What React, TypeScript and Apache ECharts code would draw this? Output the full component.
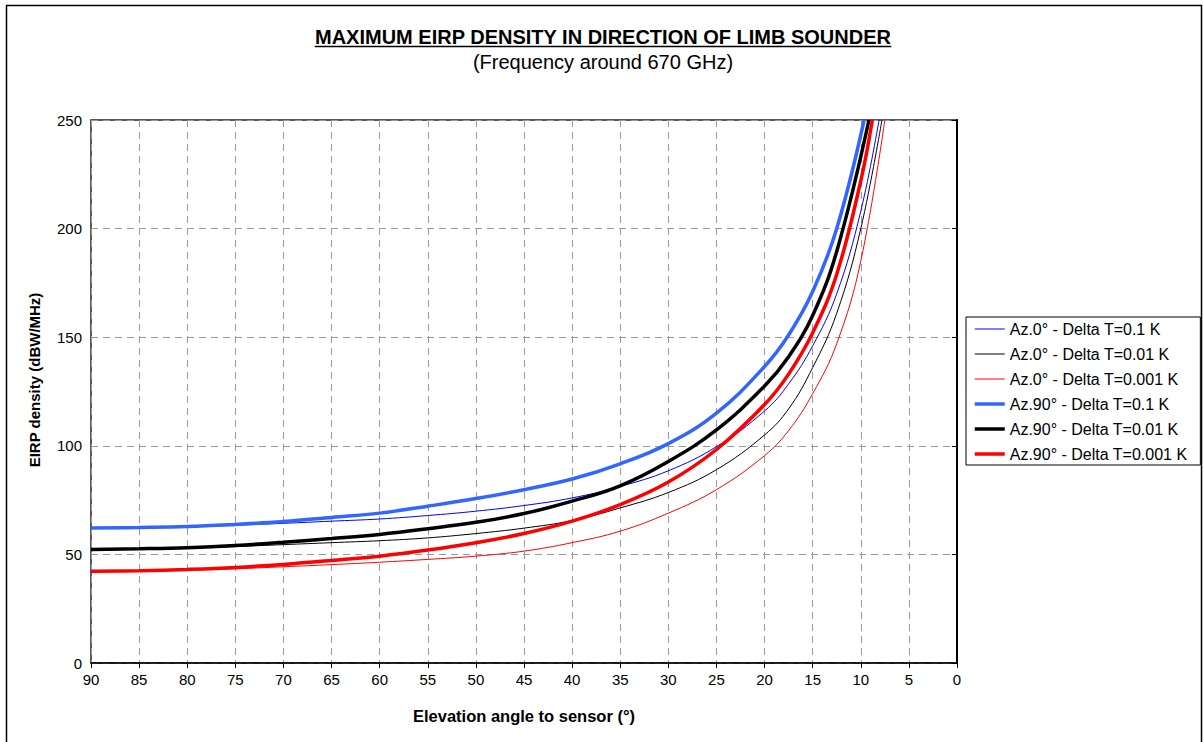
import React, { useEffect, useRef } from "react";
import * as echarts from "echarts";

const FONT = '"Liberation Sans", Arial, Helvetica, sans-serif';

const TITLE = "MAXIMUM EIRP DENSITY IN DIRECTION OF LIMB SOUNDER";
const SUBTITLE = "(Frequency around 670 GHz)";
const X_NAME = "Elevation angle to sensor (°)";
const Y_NAME = "EIRP density (dBW/MHz)";

const SERIES_NAMES = [
  "Az.0° - Delta T=0.1 K",
  "Az.0° - Delta T=0.01 K",
  "Az.0° - Delta T=0.001 K",
  "Az.90° - Delta T=0.1 K",
  "Az.90° - Delta T=0.01 K",
  "Az.90° - Delta T=0.001 K",
];

// elevation angles (deg) and EIRP density values (dBW/MHz)
const elevAz0T01 = [90, 85, 80, 75, 70, 65, 60, 55, 50, 45, 40, 35, 30, 25, 20, 17.5, 15, 12.5, 10, 8.1];
const valAz0T01 = [62.2, 62.4, 62.7, 63.4, 64.3, 65.3, 66.3, 67.9, 69.9, 72.5, 76.0, 81.3, 88.5, 99.6, 116, 128.5, 146, 170, 208, 250];

const elevAz0T001 = [90, 85, 80, 75, 70, 65, 60, 55, 50, 45, 40, 35, 30, 25, 20, 17.5, 15, 12.5, 10, 7.8];
const valAz0T001 = [52.3, 52.5, 52.9, 53.6, 54.5, 55.4, 56.3, 57.6, 59.6, 62.1, 65.6, 71.4, 78.5, 89.0, 105, 117, 136, 161, 200, 250];

const elevAz0T0001 = [90, 85, 80, 75, 70, 65, 60, 55, 50, 45, 40, 35, 30, 25, 20, 17.5, 15, 12.5, 10, 7.5];
const valAz0T0001 = [42.2, 42.4, 42.8, 43.4, 44.3, 45.3, 46.4, 47.7, 49.2, 51.5, 55.4, 60.7, 69.0, 79.8, 95.5, 107, 124, 147, 185, 250];

const elevAz90T01 = [90, 85, 80, 75, 70, 65, 60, 55, 50, 45, 40, 35, 30, 25, 20, 17.5, 15, 12.5, 9.65];
const valAz90T01 = [62.2, 62.4, 62.8, 63.8, 65.1, 67.0, 69.0, 72.2, 75.7, 79.8, 84.7, 91.7, 101, 115, 136.5, 151, 171, 200, 250];

const elevAz90T001 = [90, 85, 80, 75, 70, 65, 60, 55, 50, 45, 40, 35, 30, 25, 20, 17.5, 15, 12.5, 9.15];
const valAz90T001 = [52.3, 52.6, 53.1, 54.1, 55.6, 57.3, 59.2, 61.8, 64.8, 68.8, 74.5, 81.6, 92.8, 107.3, 127.5, 141, 160, 189.5, 250];

const elevAz90T0001 = [90, 85, 80, 75, 70, 65, 60, 55, 50, 45, 40, 35, 30, 25, 20, 17.5, 15, 12.5, 10, 8.8];
const valAz90T0001 = [42.2, 42.5, 43.1, 44.0, 45.4, 47.2, 49.2, 52.0, 55.4, 59.6, 65.3, 72.9, 83.3, 98.3, 119, 133, 152, 179, 222, 250];

const ELEVS = [elevAz0T01, elevAz0T001, elevAz0T0001, elevAz90T01, elevAz90T001, elevAz90T0001];
const VALS = [valAz0T01, valAz0T001, valAz0T0001, valAz90T01, valAz90T001, valAz90T0001];
const COLORS = ["#0000ff", "#000000", "#ff0000", "#3366ff", "#000000", "#ff0000"];
const WIDTHS = [1, 1, 1, 3.5, 3.5, 3.5];

const X_MIN = 0;
const X_MAX = 90;
const X_STEP = 5;
const Y_MIN = 0;
const Y_MAX = 250;
const Y_STEP = 50;

function measure(text: string, font: string): number {
  const ctx = document.createElement("canvas").getContext("2d");
  if (!ctx) return text.length * 10;
  ctx.font = font;
  return ctx.measureText(text).width;
}

export default function App() {
  const ref = useRef<HTMLDivElement>(null);

  useEffect(() => {
    if (!ref.current) return;
    const chart = echarts.init(ref.current, undefined, { renderer: "svg" });

    const titleSize = 20;
    const titleW = measure(TITLE, `bold ${titleSize}px "Liberation Sans"`);
    const cx = 603;

    const series = SERIES_NAMES.map((name, i) => ({
      name,
      type: "line",
      data: ELEVS[i].map((e, j) => [e, VALS[i][j]]),
      symbol: "none",
      showSymbol: false,
      smooth: 0.4,
      lineStyle: { color: COLORS[i], width: WIDTHS[i] },
      itemStyle: { color: COLORS[i] },
      clip: true,
    }));

    chart.setOption({
      animation: false,
      backgroundColor: "#ffffff",
      textStyle: { fontFamily: FONT },
      grid: {
        left: 91,
        right: 246,
        top: 120,
        bottom: 79,
        show: true,
        borderColor: "#222",
        borderWidth: 1.5,
        backgroundColor: "transparent",
      },
      legend: {
        orient: "vertical",
        left: 966,
        top: 317,
        itemWidth: 30,
        itemHeight: 14,
        itemGap: 9,
        padding: [4, 13, 3, 7],
        borderColor: "#000",
        borderWidth: 1,
        backgroundColor: "#fff",
        align: "left",
        itemStyle: { opacity: 0 },
        textStyle: { fontSize: 16, color: "#000", fontFamily: FONT },
        data: SERIES_NAMES.map((name, i) => ({
          name,
          lineStyle: { width: WIDTHS[i], color: COLORS[i] },
        })),
      },
      xAxis: {
        type: "value",
        min: X_MIN,
        max: X_MAX,
        interval: X_STEP,
        inverse: true,
        name: X_NAME,
        nameLocation: "middle",
        nameGap: 44,
        nameTextStyle: { fontSize: 16.5, fontWeight: "bold", color: "#000", fontFamily: FONT },
        axisLine: { lineStyle: { color: "#000", width: 1.5 } },
        axisTick: { show: true, inside: false, length: 5, lineStyle: { color: "#000" } },
        axisLabel: { fontSize: 15, color: "#000", margin: 9, fontFamily: FONT },
        splitLine: { show: true, lineStyle: { color: "#999", type: [7, 5], width: 1 } },
      },
      yAxis: {
        type: "value",
        min: Y_MIN,
        max: Y_MAX,
        interval: Y_STEP,
        axisLine: { show: true, lineStyle: { color: "#000", width: 2 } },
        axisTick: { show: true, inside: false, length: 5, lineStyle: { color: "#000" } },
        axisLabel: { fontSize: 15, color: "#000", margin: 9, fontFamily: FONT },
        splitLine: { show: true, lineStyle: { color: "#999", type: [7, 5], width: 1 } },
      },
      graphic: [
        {
          type: "rect",
          shape: { x: 6.5, y: 5.5, width: 1195, height: 800 },
          style: { fill: "none", stroke: "#000", lineWidth: 1.5 },
          silent: true,
          z: -10,
        },
        {
          type: "text",
          x: cx,
          y: 37,
          style: {
            text: TITLE,
            fontSize: titleSize,
            fontWeight: "bold",
            fontFamily: FONT,
            fill: "#000",
            align: "center",
            verticalAlign: "middle",
          },
        },
        {
          type: "line",
          shape: { x1: cx - titleW / 2, y1: 46.5, x2: cx + titleW / 2, y2: 46.5 },
          style: { stroke: "#000", lineWidth: 1.5 },
        },
        {
          type: "text",
          x: cx,
          y: 62,
          style: {
            text: SUBTITLE,
            fontSize: 20,
            fontFamily: FONT,
            fill: "#000",
            align: "center",
            verticalAlign: "middle",
          },
        },
        {
          type: "text",
          x: 34,
          y: 380,
          rotation: Math.PI / 2,
          style: {
            text: Y_NAME,
            fontSize: 15,
            fontWeight: "bold",
            fontFamily: FONT,
            fill: "#000",
            align: "center",
            verticalAlign: "middle",
          },
        },
      ],
      series,
    });

    return () => chart.dispose();
  }, []);

  return (
    <div
      ref={ref}
      style={{ position: "fixed", left: 0, top: 0, width: 1203, height: 742, background: "#fff" }}
    />
  );
}
